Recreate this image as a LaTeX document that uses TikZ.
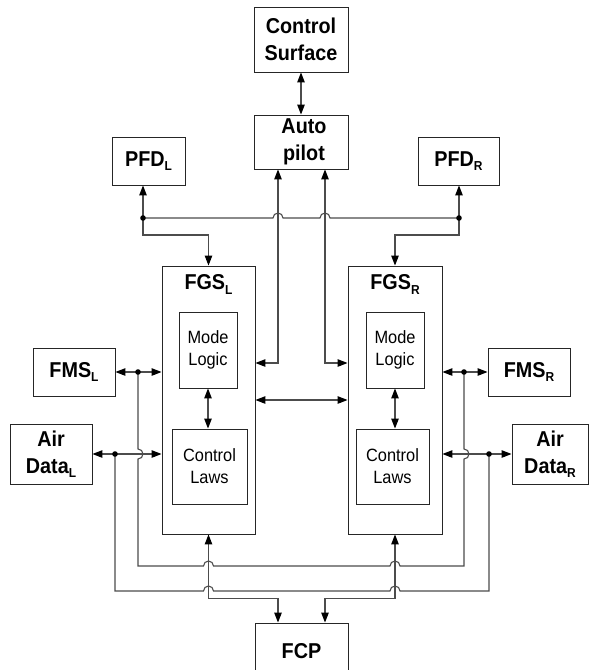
\documentclass[tikz,border=0pt]{standalone}
\usepackage{fontspec}
\setmainfont{Liberation Sans}
\newfontfamily\boxfont[FakeStretch=0.92]{Liberation Sans}
\usetikzlibrary{arrows.meta}

\newcommand{\lowsub}[1]{\raisebox{-4.5pt}{\fontsize{13}{13}\selectfont #1}}

\tikzset{
  blk/.style={draw=black!85, line width=0.9pt, align=center, inner sep=0pt,
    font=\boxfont\bfseries\fontsize{21.5}{27}\selectfont},
  inblk/.style={draw=black!85, line width=0.9pt, align=center, inner sep=0pt,
    font=\boxfont\fontsize{17.8}{22}\selectfont},
  wire/.style={draw=black!70, line width=1.1pt},
  dot/.style={fill=black}
}

\begin{document}
\begin{tikzpicture}[x=1pt, y=-1pt, >={Triangle[length=10pt,width=7.5pt,color=black]}]
	\useasboundingbox (0,0) rectangle (589,670);

	% outer units
	\node[blk, minimum width=94pt, minimum height=65pt] (cs) at (301,39.5) {Control\\Surface};
	\node[blk, minimum width=94pt, minimum height=54pt] (ap) at (301,142) {\raisebox{-3pt}{\begin{tabular}{@{}c@{}}\hspace{6pt}Auto\\\hspace{6pt}pilot\end{tabular}}};
	\node[blk, minimum width=73pt, minimum height=48pt] (pfdl) at (148.5,161) {PFD\lowsub{L}};
	\node[blk, minimum width=81pt, minimum height=48pt] (pfdr) at (458.5,161) {PFD\lowsub{R}};
	\node[blk, minimum width=82pt, minimum height=48pt] (fmsl) at (74,372) {FMS\lowsub{L}};
	\node[blk, minimum width=82pt, minimum height=48pt] (fmsr) at (529,372) {FMS\lowsub{R}};
	\node[blk, minimum width=82pt, minimum height=60pt] (adl) at (51,454) {Air\\Data\lowsub{L}};
	\node[blk, minimum width=76pt, minimum height=60pt] (adr) at (550,454) {Air\\Data\lowsub{R}};
	\node[blk, minimum width=93pt, minimum height=57pt] (fcp) at (301.5,651.5) {FCP};

	% flight guidance systems
	\node[blk, minimum width=93pt, minimum height=268pt] (fgsl) at (208.5,400) {};
	\node[blk, minimum width=94pt, minimum height=268pt] (fgsr) at (395,400) {};
	\node[font=\boxfont\bfseries\fontsize{21.5}{27}\selectfont, anchor=base] (fgslname) at ([yshift=-24pt]fgsl.north) {FGS\lowsub{L}};
	\node[font=\boxfont\bfseries\fontsize{21.5}{27}\selectfont, anchor=base] (fgsrname) at ([yshift=-24pt]fgsr.north) {FGS\lowsub{R}};
	\node[inblk, minimum width=58pt, minimum height=76pt] (mll) at (208,350) {Mode\\Logic};
	\node[inblk, minimum width=58pt, minimum height=76pt] (mlr) at (395,350) {Mode\\Logic};
	\node[inblk, minimum width=75pt, minimum height=75pt] (cll) at (209.5,466.5) {Control\\Laws};
	\node[inblk, minimum width=73pt, minimum height=75pt] (clr) at (392.5,466.5) {Control\\Laws};

	% junctions
	\coordinate (dl) at (143,218);
	\coordinate (dr) at (459,218);
	\coordinate (fl) at (138,372);
	\coordinate (fr) at (464,372);
	\coordinate (al) at (115,454);
	\coordinate (ar) at (489,454);

	\draw[wire,<->] (cs) -- (ap);

	% display bus
	\draw[wire,->] (dl) -- (dl |- pfdl.south);
	\draw[wire,->] (dl) -- ++(0,17) -| (fgsl.north);
	\draw[wire,->] (dr) -- (dr |- pfdr.south);
	\draw[wire,->] (dr) -- ++(0,17) -| (fgsr.north);
	\draw[wire] (dl) -- (273,218) arc (180:360:5) -- (320,218) arc (180:360:5) -- (dr);

	\draw[wire,<->] ([xshift=-23pt]ap.south) |- ([yshift=37pt]fgsl.east);
	\draw[wire,<->] ([xshift=24pt]ap.south) |- ([yshift=37pt]fgsr.west);

	\draw[wire,<->] (fmsl.east) -- (fmsl.east -| fgsl.west);
	\draw[wire,<->] (fmsr.west) -- (fmsr.west -| fgsr.east);
	\draw[wire,<->] (adl.east) -- (adl.east -| fgsl.west);
	\draw[wire,<->] (adr.west) -- (adr.west -| fgsr.east);
	\draw[wire,<->] (fgsl.east) -- (fgsr.west);
	\draw[wire,<->] (mll.south) -- (mll.south |- cll.north);
	\draw[wire,<->] (mlr.south) -- (mlr.south |- clr.north);

	% cross links
	\draw[wire] (fl) -- (138,449) arc (-90:90:5) -- (138,566) -- (203.5,566) arc (180:360:5)
		-- (390,566) arc (180:360:5) -- (464,566) -- (464,459) arc (90:-90:5) -- (fr);
	\draw[wire] (al) -- (115,591) -- (203.5,591) arc (180:360:5)
		-- (390,591) arc (180:360:5) -- (489,591) -- (ar);

	\draw[wire,<->] (fgsl.south) -- ++(0,64) -| ([xshift=-23.5pt]fcp.north);
	\draw[wire,<->] (fgsr.south) -- ++(0,64) -| ([xshift=23.5pt]fcp.north);

	\foreach \p in {dl,dr,fl,fr,al,ar}
		\fill[dot] (\p) circle (2.8);
\end{tikzpicture}
\end{document}
